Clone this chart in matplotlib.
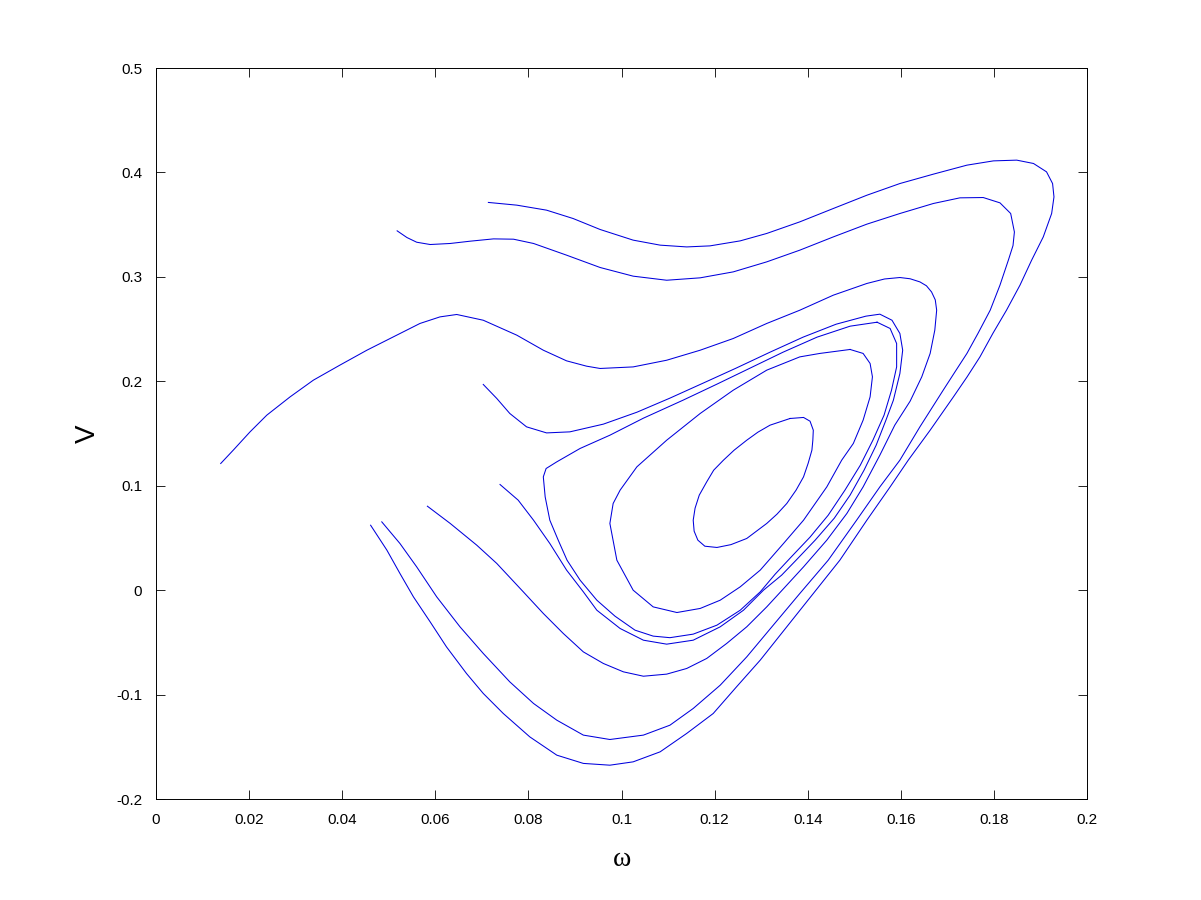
import matplotlib
matplotlib.use("Agg")
import matplotlib.pyplot as plt

# trajectories in the (omega, V) plane
outer_w = [0.0461, 0.0496, 0.0524, 0.0553, 0.0589, 0.0624, 0.0667, 0.0703, 0.0746, 0.0803,
           0.0861, 0.0918, 0.0975, 0.1025, 0.1083, 0.1140, 0.1197, 0.1247, 0.1298, 0.1355,
           0.1412, 0.1469, 0.1527, 0.1577, 0.1616, 0.1663, 0.1713, 0.1742, 0.1770, 0.1798,
           0.1827, 0.1856, 0.1881, 0.1906, 0.1924, 0.1929, 0.1926, 0.1913, 0.1885, 0.1849,
           0.1799, 0.1742, 0.1670, 0.1598, 0.1527, 0.1455, 0.1383, 0.1312, 0.1255, 0.1190,
           0.1140, 0.1083, 0.1025, 0.0954, 0.0896, 0.0839, 0.0775, 0.0714]
outer_v = [0.0622, 0.0383, 0.0160, -0.0064, -0.0304, -0.0543, -0.0798, -0.0989, -0.1181, -0.1405,
           -0.1580, -0.1659, -0.1676, -0.1644, -0.1548, -0.1372, -0.1181, -0.0926, -0.0670, -0.0351,
           -0.0032, 0.0287, 0.0670, 0.0989, 0.1245, 0.1532, 0.1851, 0.2040, 0.2234, 0.2461,
           0.2681, 0.2921, 0.3160, 0.3383, 0.3607, 0.3766, 0.3894, 0.4006, 0.4086, 0.4118,
           0.4111, 0.4070, 0.3984, 0.3894, 0.3782, 0.3655, 0.3527, 0.3416, 0.3345, 0.3297,
           0.3287, 0.3304, 0.3352, 0.3454, 0.3559, 0.3639, 0.3687, 0.3713]

second_w = [0.0485, 0.0524, 0.0560, 0.0603, 0.0653, 0.0703, 0.0760, 0.0811, 0.0861, 0.0918,
            0.0975, 0.1047, 0.1104, 0.1154, 0.1212, 0.1269, 0.1326, 0.1383, 0.1444, 0.1505,
            0.1555, 0.1598, 0.1641, 0.1691, 0.1716, 0.1742, 0.1766, 0.1792, 0.1813, 0.1831,
            0.1841, 0.1844, 0.1836, 0.1813, 0.1777, 0.1727, 0.1670, 0.1598, 0.1527, 0.1455,
            0.1383, 0.1312, 0.1240, 0.1169, 0.1097, 0.1025, 0.0954, 0.0882, 0.0811, 0.0768,
            0.0725, 0.0675, 0.0632, 0.0589, 0.0560, 0.0539, 0.0518]
second_v = [0.0654, 0.0447, 0.0223, -0.0064, -0.0351, -0.0606, -0.0878, -0.1085, -0.1245, -0.1388,
            -0.1430, -0.1388, -0.1293, -0.1133, -0.0910, -0.0639, -0.0335, -0.0032, 0.0287, 0.0670,
            0.0989, 0.1245, 0.1564, 0.1915, 0.2088, 0.2267, 0.2461, 0.2681, 0.2921, 0.3160,
            0.3300, 0.3430, 0.3607, 0.3709, 0.3760, 0.3757, 0.3703, 0.3607, 0.3505, 0.3383,
            0.3256, 0.3144, 0.3048, 0.2991, 0.2968, 0.3007, 0.3090, 0.3208, 0.3320, 0.3361,
            0.3364, 0.3342, 0.3320, 0.3310, 0.3332, 0.3377, 0.3441]

third_w = [0.0583, 0.0632, 0.0689, 0.0732, 0.0789, 0.0832, 0.0875, 0.0918, 0.0961, 0.1004,
           0.1047, 0.1097, 0.1140, 0.1183, 0.1226, 0.1269, 0.1312, 0.1355, 0.1391, 0.1441,
           0.1484, 0.1519, 0.1555, 0.1587, 0.1620, 0.1645, 0.1663, 0.1673, 0.1677, 0.1674,
           0.1666, 0.1655, 0.1641, 0.1620, 0.1598, 0.1565, 0.1527, 0.1455, 0.1383, 0.1312,
           0.1240, 0.1169, 0.1097, 0.1025, 0.0954, 0.0925, 0.0882, 0.0832, 0.0775, 0.0703,
           0.0646, 0.0610, 0.0567, 0.0510, 0.0453, 0.0395, 0.0338, 0.0288, 0.0238, 0.0202,
           0.0166, 0.0139]
third_v = [0.0804, 0.0639, 0.0431, 0.0256, -0.0016, -0.0223, -0.0415, -0.0591, -0.0702, -0.0782,
           -0.0824, -0.0804, -0.0750, -0.0654, -0.0510, -0.0351, -0.0160, 0.0048, 0.0223, 0.0479,
           0.0734, 0.0989, 0.1293, 0.1580, 0.1810, 0.2043, 0.2267, 0.2490, 0.2681, 0.2780,
           0.2856, 0.2915, 0.2952, 0.2982, 0.2994, 0.2980, 0.2937, 0.2825, 0.2681, 0.2554,
           0.2410, 0.2298, 0.2202, 0.2138, 0.2123, 0.2145, 0.2196, 0.2298, 0.2442, 0.2585,
           0.2640, 0.2617, 0.2554, 0.2426, 0.2298, 0.2155, 0.2011, 0.1851, 0.1676, 0.1516,
           0.1341, 0.1213]

fourth_w = [0.0703, 0.0732, 0.0760, 0.0796, 0.0839, 0.0889, 0.0961, 0.1033, 0.1104, 0.1175,
            0.1246, 0.1319, 0.1390, 0.1461, 0.1525, 0.1555, 0.1581, 0.1598, 0.1604, 0.1598,
            0.1584, 0.1568, 0.1547, 0.1521, 0.1491, 0.1457, 0.1416, 0.1375, 0.1344, 0.1305,
            0.1262, 0.1212, 0.1154, 0.1097, 0.1047, 0.0997, 0.0947, 0.0918, 0.0882, 0.0846,
            0.0811, 0.0778, 0.0739]
fourth_v = [0.1970, 0.1836, 0.1692, 0.1564, 0.1506, 0.1516, 0.1590, 0.1704, 0.1839, 0.1982,
            0.2126, 0.2279, 0.2423, 0.2547, 0.2624, 0.2643, 0.2585, 0.2458, 0.2298, 0.2075,
            0.1819, 0.1628, 0.1388, 0.1149, 0.0910, 0.0689, 0.0479, 0.0287, 0.0144, 0.0000,
            -0.0192, -0.0351, -0.0479, -0.0517, -0.0479, -0.0367, -0.0192, -0.0016, 0.0192, 0.0447,
            0.0670, 0.0862, 0.1012]

# closed orbits
loop3_w = [0.1549, 0.1577, 0.1591, 0.1591, 0.1580, 0.1564, 0.1540, 0.1513, 0.1480, 0.1444,
           0.1405, 0.1362, 0.1330, 0.1298, 0.1255, 0.1205, 0.1154, 0.1104, 0.1068, 0.1029,
           0.0986, 0.0947, 0.0911, 0.0883, 0.0864, 0.0846, 0.0836, 0.0832, 0.0838, 0.0861,
           0.0911, 0.0975, 0.1047, 0.1132, 0.1205, 0.1276, 0.1347, 0.1420, 0.1491, 0.1549]
loop3_v = [0.2566, 0.2506, 0.2362, 0.2138, 0.1915, 0.1676, 0.1436, 0.1197, 0.0958, 0.0718,
           0.0508, 0.0306, 0.0153, -0.0016, -0.0192, -0.0335, -0.0421, -0.0455, -0.0440, -0.0383,
           -0.0249, -0.0096, 0.0096, 0.0287, 0.0479, 0.0670, 0.0893, 0.1085, 0.1165, 0.1229,
           0.1357, 0.1484, 0.1647, 0.1819, 0.1973, 0.2126, 0.2279, 0.2423, 0.2528, 0.2566]

loop2_w = [0.1491, 0.1519, 0.1534, 0.1539, 0.1534, 0.1519, 0.1498, 0.1473, 0.1441, 0.1391,
           0.1348, 0.1298, 0.1255, 0.1212, 0.1169, 0.1119, 0.1068, 0.1025, 0.0990, 0.0975,
           0.0982, 0.0997, 0.1033, 0.1097, 0.1169, 0.1240, 0.1312, 0.1383, 0.1426, 0.1491]
loop2_v = [0.2305, 0.2267, 0.2171, 0.2043, 0.1851, 0.1628, 0.1405, 0.1245, 0.0989, 0.0670,
           0.0447, 0.0192, 0.0032, -0.0096, -0.0175, -0.0214, -0.0160, 0.0000, 0.0287, 0.0639,
           0.0830, 0.0958, 0.1181, 0.1436, 0.1692, 0.1915, 0.2107, 0.2234, 0.2267, 0.2305]

loop1_w = [0.1362, 0.1391, 0.1405, 0.1412, 0.1411, 0.1409, 0.1401, 0.1391, 0.1375, 0.1355,
           0.1334, 0.1312, 0.1269, 0.1235, 0.1205, 0.1179, 0.1164, 0.1156, 0.1154, 0.1158,
           0.1167, 0.1183, 0.1198, 0.1219, 0.1242, 0.1269, 0.1293, 0.1319, 0.1362]
loop1_v = [0.1644, 0.1654, 0.1618, 0.1532, 0.1436, 0.1341, 0.1216, 0.1085, 0.0958, 0.0830,
           0.0728, 0.0639, 0.0495, 0.0436, 0.0409, 0.0421, 0.0479, 0.0565, 0.0670, 0.0785,
           0.0910, 0.1037, 0.1149, 0.1245, 0.1341, 0.1436, 0.1513, 0.1580, 0.1644]

curves = [(outer_w, outer_v), (second_w, second_v), (third_w, third_v),
          (fourth_w, fourth_v), (loop3_w, loop3_v), (loop2_w, loop2_v), (loop1_w, loop1_v)]

plt.rcParams['font.family'] = ['Liberation Sans', 'DejaVu Sans']

fig = plt.figure(figsize=(12.01, 9.0), dpi=100)
ax = fig.add_axes([0.1299, 0.1122, 0.7752, 0.8122])

for w, v in curves:
    ax.plot(w, v, color='#0000dd', linewidth=0.75)

ax.set_xlim(0, 0.2)
ax.set_ylim(-0.2, 0.5)
xticks = [0, 0.02, 0.04, 0.06, 0.08, 0.1, 0.12, 0.14, 0.16, 0.18, 0.2]
yticks = [-0.2, -0.1, 0, 0.1, 0.2, 0.3, 0.4, 0.5]
ax.set_xticks(xticks)
ax.set_xticklabels(['0', '0.02', '0.04', '0.06', '0.08', '0.1', '0.12', '0.14', '0.16', '0.18', '0.2'])
ax.set_yticks(yticks)
ax.set_yticklabels(['-0.2', '-0.1', '0', '0.1', '0.2', '0.3', '0.4', '0.5'])
ax.tick_params(direction='in', length=6.7, width=0.6, top=True, right=True, labelsize=11)
ax.tick_params(axis='x', pad=10)
ax.tick_params(axis='y', pad=10)
for s in ax.spines.values():
    s.set_linewidth(0.7)

ax.set_xlabel('ω', fontsize=20, family=['Liberation Serif', 'DejaVu Serif'], va='center')
ax.xaxis.set_label_coords(0.5, -0.083)
ax.set_ylabel('V', fontsize=20, va='center')
ax.yaxis.set_label_coords(-0.073, 0.5)

fig.savefig('out.png', dpi=100)
